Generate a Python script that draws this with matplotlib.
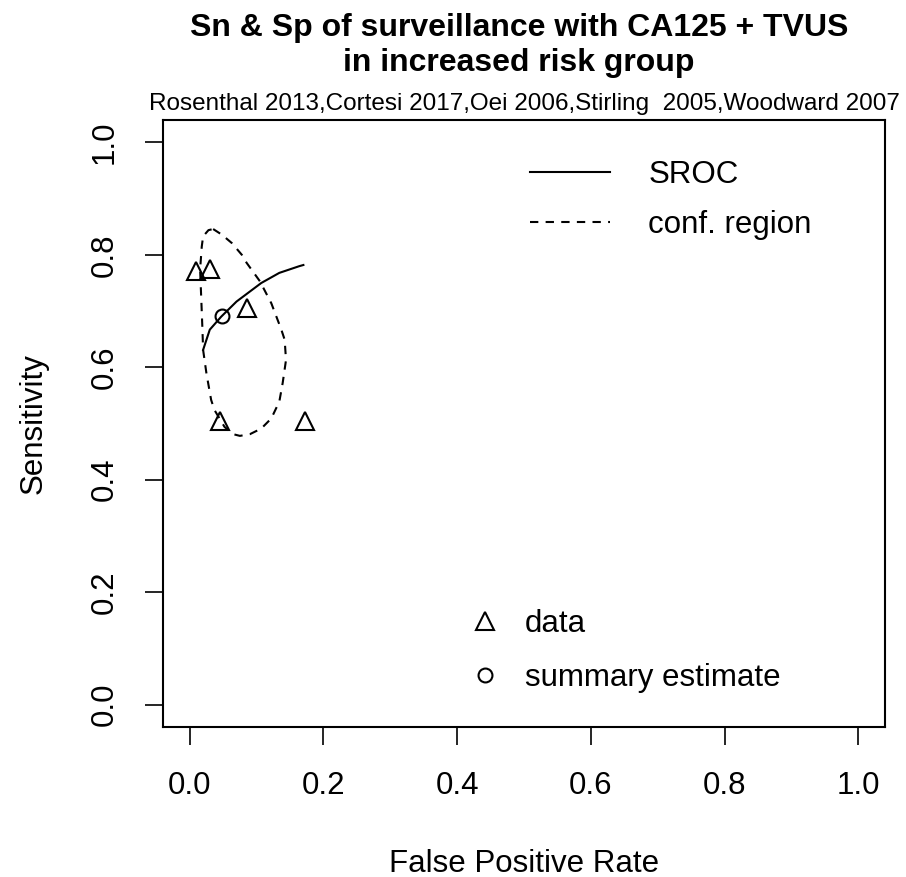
import numpy as np
import matplotlib
matplotlib.use("Agg")
import matplotlib.pyplot as plt
from matplotlib.lines import Line2D

plt.rcParams['font.family'] = ['Liberation Sans', 'DejaVu Sans']

# study points (false positive rate, sensitivity)
fpr = [0.010, 0.031, 0.086, 0.046, 0.172]
sens = [0.771, 0.775, 0.706, 0.505, 0.505]

# summary estimate
sum_fpr = [0.048]
sum_sens = [0.692]

# SROC curve
sroc_fpr = [0.020, 0.030, 0.047, 0.070, 0.107, 0.134, 0.164, 0.170]
sroc_sens = [0.631, 0.667, 0.690, 0.717, 0.750, 0.768, 0.780, 0.782]

# confidence region outline, read clockwise from the top
conf_fpr = [0.035, 0.048, 0.063, 0.078, 0.085, 0.105, 0.122, 0.137,
            0.142, 0.144, 0.139, 0.134, 0.122, 0.107, 0.090, 0.075,
            0.065, 0.052, 0.037, 0.032, 0.025, 0.020, 0.019, 0.0175,
            0.0155, 0.018, 0.020, 0.028, 0.035]
conf_sens = [0.846, 0.836, 0.821, 0.800, 0.786, 0.753, 0.714, 0.667,
             0.649, 0.613, 0.572, 0.539, 0.509, 0.491, 0.481, 0.478,
             0.481, 0.494, 0.524, 0.542, 0.589, 0.631, 0.667, 0.714,
             0.774, 0.815, 0.833, 0.844, 0.846]

ticks = [0.0, 0.2, 0.4, 0.6, 0.8, 1.0]
tick_labels = ["0.0", "0.2", "0.4", "0.6", "0.8", "1.0"]

W, H = 906, 877
fig = plt.figure(figsize=(W / 100, H / 100), dpi=100)
ax = fig.add_axes([163 / W, (H - 727) / H, (885 - 163) / W, (727 - 120) / H])

dash = (0, (4, 3.5))
ax.plot(sroc_fpr, sroc_sens, color='black', lw=1.5, solid_joinstyle='round')
ax.plot(conf_fpr, conf_sens, color='black', lw=1.5, linestyle=dash,
        dash_joinstyle='round')
ax.plot(fpr, sens, linestyle='none', marker='^', ms=13.5, mfc='none',
        mec='black', mew=1.5)
ax.plot(sum_fpr, sum_sens, linestyle='none', marker='o', ms=10, mfc='none',
        mec='black', mew=1.5)

ax.set_xlim(-0.04, 1.04)
ax.set_ylim(-0.04, 1.04)
ax.set_xticks(ticks)
ax.set_xticklabels(tick_labels)
ax.set_yticks(ticks)
ax.set_yticklabels(tick_labels, rotation=90, va='center')
ax.tick_params(length=13, width=1.2, labelsize=22.5)
ax.tick_params(axis='x', pad=19)
ax.tick_params(axis='y', pad=18)
for s in ax.spines.values():
    s.set_linewidth(1.5)

ax.set_xlabel("False Positive Rate", fontsize=22.5, labelpad=34)
ax.set_ylabel("Sensitivity", fontsize=22.5, labelpad=30)

fig.text(519 / W, 1 - 45.5 / H, "Sn & Sp of surveillance with CA125 + TVUS\nin increased risk group",
         ha='center', va='center', fontsize=23, fontweight='bold', linespacing=1.2)
fig.text(524 / W, 1 - 104 / H,
         "Rosenthal 2013,Cortesi 2017,Oei 2006,Stirling  2005,Woodward 2007",
         ha='center', va='center', fontsize=17.5)

h1 = [Line2D([], [], color='black', lw=1.5),
      Line2D([], [], color='black', lw=1.5, linestyle=dash)]
leg1 = ax.legend(h1, ["SROC", "conf. region"], loc='center left',
                 bbox_to_anchor=((530 - 163) / 722, (727 - 200) / 607),
                 frameon=False, fontsize=22.5, handlelength=2.56,
                 handletextpad=1.22, labelspacing=0.62, borderpad=0,
                 borderaxespad=0)
ax.add_artist(leg1)

h2 = [Line2D([], [], linestyle='none', marker='^', ms=13.5, mfc='none',
             mec='black', mew=1.5),
      Line2D([], [], linestyle='none', marker='o', ms=10, mfc='none',
             mec='black', mew=1.5)]
ax.legend(h2, ["data", "summary estimate"], loc='center left',
          bbox_to_anchor=((469.5 - 163) / 722, (727 - 651) / 607),
          frameon=False, fontsize=22.5, handlelength=1.0,
          handletextpad=0.78, labelspacing=0.78, borderpad=0,
          borderaxespad=0)

fig.savefig("out.png", dpi=100)
